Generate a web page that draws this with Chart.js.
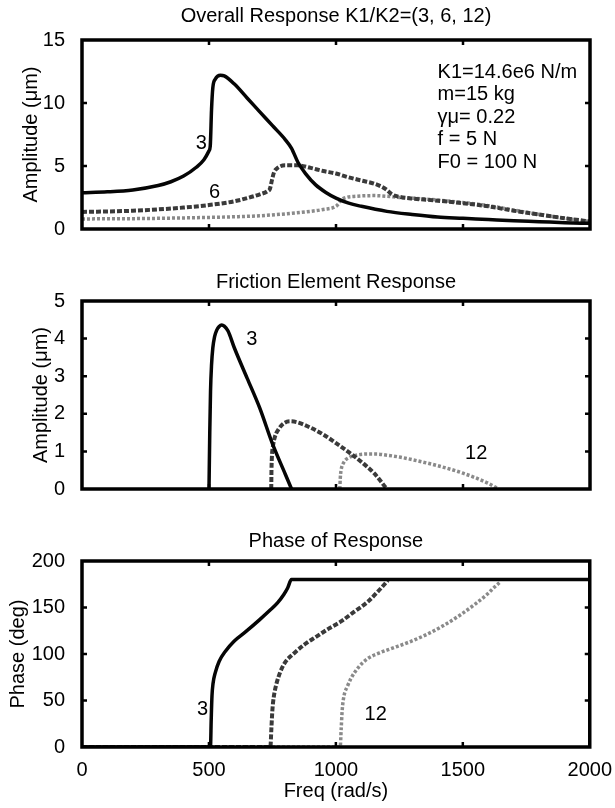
<!DOCTYPE html>
<html>
<head>
<meta charset="utf-8">
<script src="https://cdn.jsdelivr.net/npm/chart.js@4.4.0/dist/chart.umd.min.js"></script>
<style>
  body { margin: 0; background: #fff; width: 615px; height: 808px; position: relative; overflow: hidden; }
  canvas { position: absolute; left: 0; }
</style>
</head>
<body>
<canvas id="overall" width="615" height="250" style="top:0px"></canvas>
<canvas id="friction" width="615" height="250" style="top:260px"></canvas>
<canvas id="phase" width="615" height="288" style="top:520px"></canvas>
<script>
// frequency axis ticks (rad/s)
const freqTicks = [0, 500, 1000, 1500, 2000];

// Overall response amplitude (um), K1/K2 = 3, 6, 12
const overallF3 = [0, 100, 200, 300, 350, 400, 450, 480, 500, 505, 510, 515, 525, 545, 560, 600, 650, 700, 750, 800, 825, 850, 880, 920, 960, 1000, 1050, 1100, 1200, 1300, 1400, 1500, 1600, 1700, 1800, 1900, 2000];
const overallA3 = [2.88, 2.95, 3.1, 3.45, 3.75, 4.2, 4.9, 5.5, 6.2, 6.6, 9.5, 11.2, 11.9, 12.2, 12.15, 11.5, 10.4, 9.3, 8.2, 7.1, 6.4, 5.3, 4.4, 3.5, 2.9, 2.45, 2.05, 1.8, 1.4, 1.15, 0.95, 0.85, 0.75, 0.65, 0.58, 0.5, 0.45];
const overallF6 = [0, 200, 400, 500, 600, 650, 700, 730, 740, 748, 756, 770, 800, 850, 900, 950, 1000, 1050, 1100, 1150, 1180, 1200, 1220, 1250, 1300, 1400, 1500, 1600, 1700, 1800, 1900, 2000];
const overallA6 = [1.35, 1.45, 1.7, 1.9, 2.2, 2.45, 2.75, 3.0, 3.2, 3.9, 4.5, 4.85, 5.05, 5.05, 4.85, 4.6, 4.4, 4.1, 3.85, 3.6, 3.35, 3.1, 2.75, 2.55, 2.42, 2.25, 2.05, 1.8, 1.45, 1.15, 0.85, 0.6];
const overallF12 = [0, 200, 400, 600, 700, 800, 900, 950, 1000, 1010, 1020, 1040, 1080, 1150, 1200, 1250, 1300, 1400, 1500, 1600, 1700, 1800, 1900, 2000];
const overallA12 = [0.8, 0.82, 0.88, 0.97, 1.05, 1.2, 1.4, 1.55, 1.8, 2.0, 2.3, 2.5, 2.6, 2.65, 2.6, 2.5, 2.45, 2.3, 2.1, 1.85, 1.5, 1.15, 0.85, 0.6];

// Friction element amplitude (um)
const frictionF3 = [500, 503, 506, 510, 515, 522, 530, 540, 550, 560, 575, 600, 650, 700, 750, 800, 825];
const frictionA3 = [0, 1.5, 2.6, 3.3, 3.75, 4.05, 4.22, 4.32, 4.36, 4.33, 4.2, 3.75, 2.95, 2.15, 1.2, 0.4, 0];
const frictionF6 = [745, 746, 748, 752, 760, 775, 795, 820, 850, 900, 950, 1000, 1050, 1100, 1150, 1200];
const frictionA6 = [0, 0.5, 0.9, 1.15, 1.4, 1.6, 1.75, 1.8, 1.77, 1.63, 1.45, 1.22, 0.98, 0.72, 0.42, 0];
const frictionF12 = [1015, 1017, 1020, 1030, 1050, 1080, 1120, 1160, 1200, 1250, 1300, 1400, 1500, 1600, 1640];
const frictionA12 = [0, 0.3, 0.5, 0.7, 0.83, 0.9, 0.93, 0.93, 0.9, 0.85, 0.78, 0.62, 0.42, 0.15, 0];

// Phase (deg)
const phaseF3 = [0, 506, 509, 512, 516, 525, 540, 565, 600, 645, 700, 740, 770, 795, 810, 825, 2000];
const phaseD3 = [0, 0, 30, 55, 68, 80, 92, 103, 114, 124, 137, 147, 155, 164, 171, 180, 180];
const phaseF6 = [0, 742, 746, 750, 756, 765, 780, 800, 832, 880, 925, 970, 1020, 1070, 1125, 1165, 1205];
const phaseD6 = [0, 0, 20, 40, 55, 67, 80, 91, 100, 111, 119, 127, 135, 145, 156, 167, 179];
const phaseF12 = [0, 1017, 1021, 1025, 1032, 1045, 1060, 1090, 1125, 1170, 1220, 1290, 1350, 1420, 1490, 1550, 1595, 1625, 1650];
const phaseD12 = [0, 0, 20, 40, 55, 65, 74, 86, 95, 101, 106, 113, 120, 130, 142, 154, 164, 172, 178];

// curve labels and parameter text
const overallNotes = [{ text: '3', x: 470, y: 6.8 }, { text: '6', x: 522, y: 2.9 }];
const frictionNotes = [{ text: '3', x: 669, y: 3.97 }, { text: '12', x: 1552, y: 0.94 }];
const phaseNotes = [{ text: '3', x: 475, y: 40 }, { text: '12', x: 1157, y: 35 }];
const paramLines = ['K1=14.6e6 N/m', 'm=15 kg', 'γμ= 0.22', 'f = 5 N', 'F0 = 100 N'];

const FONT = "'Liberation Sans', Arial, sans-serif";
Chart.defaults.font.family = FONT;
Chart.defaults.font.size = 20;
Chart.defaults.color = '#000';

function pts(xs, ys) {
    return xs.map((x, i) => ({ x: x, y: ys[i] }));
}

function series(xs, ys, which) {
    const ds = { data: pts(xs, ys), pointRadius: 0, cubicInterpolationMode: 'monotone', fill: false };
    if (which === 3) {
        ds.borderColor = '#050505';
        ds.borderWidth = 3.5;
    }
    if (which === 6) {
        ds.borderColor = '#3a3a3a';
        ds.borderWidth = 4;
        ds.borderDash = [5, 2];
    }
    if (which === 12) {
        ds.borderColor = '#8a8a8a';
        ds.borderWidth = 3.5;
        ds.borderDash = [3, 2];
    }
    return ds;
}

// box round the plot with inward ticks on all four sides
const frame = {
    id: 'frame',
    afterDatasetsDraw(chart) {
        const { ctx, chartArea: a, scales } = chart;
        ctx.save();
        ctx.strokeStyle = '#000';
        ctx.lineWidth = 2.5;
        ctx.beginPath();
        freqTicks.slice(1, -1).forEach(v => {
            const px = scales.x.getPixelForValue(v);
            ctx.moveTo(px, a.bottom); ctx.lineTo(px, a.bottom - 5);
            ctx.moveTo(px, a.top); ctx.lineTo(px, a.top + 5);
        });
        scales.y.ticks.slice(1, -1).forEach(t => {
            const py = scales.y.getPixelForValue(t.value);
            ctx.moveTo(a.left, py); ctx.lineTo(a.left + 5, py);
            ctx.moveTo(a.right, py); ctx.lineTo(a.right - 5, py);
        });
        ctx.stroke();
        ctx.lineWidth = 3.5;
        ctx.strokeRect(a.left, a.top, a.width, a.height);
        ctx.restore();
    }
};

// text labels placed in data units
const notes = {
    id: 'notes',
    afterDatasetsDraw(chart, args, opts) {
        const { ctx, scales } = chart;
        ctx.save();
        ctx.fillStyle = '#000';
        ctx.font = '20px ' + FONT;
        ctx.textAlign = 'center';
        ctx.textBaseline = 'middle';
        (opts.items || []).forEach(n => {
            ctx.fillText(n.text, scales.x.getPixelForValue(n.x), scales.y.getPixelForValue(n.y));
        });
        if (opts.lines) {
            ctx.textAlign = 'left';
            const x0 = scales.x.getPixelForValue(opts.linesAt.x);
            const y0 = scales.y.getPixelForValue(opts.linesAt.y);
            opts.lines.forEach((l, i) => ctx.fillText(l, x0, y0 + i * 22.5));
        }
        ctx.restore();
    }
};

function makeChart(id, cfg) {
    const bottomAxis = cfg.xTitle !== undefined;
    return new Chart(document.getElementById(id).getContext('2d'), {
        type: 'line',
        data: { datasets: cfg.datasets },
        options: {
            responsive: false,
            animation: false,
            layout: { padding: { left: 0, right: 25, top: 0, bottom: bottomAxis ? 0 : 21 } },
            plugins: {
                legend: { display: false },
                tooltip: { enabled: false },
                title: {
                    display: true,
                    fullSize: false,
                    text: cfg.title,
                    font: { size: 20, weight: 'normal' },
                    color: '#000',
                    padding: cfg.titlePad
                },
                notes: { items: cfg.notes, lines: cfg.lines, linesAt: cfg.linesAt }
            },
            scales: {
                x: {
                    type: 'linear',
                    min: 0,
                    max: 2000,
                    grid: { display: false },
                    border: { display: false },
                    ticks: {
                        display: bottomAxis,
                        stepSize: 500,
                        padding: 3,
                        color: '#000',
                        callback: v => String(v)
                    },
                    title: {
                        display: bottomAxis,
                        text: cfg.xTitle,
                        font: { size: 20 },
                        color: '#000',
                        padding: { top: 0, bottom: 5 }
                    },
                    afterFit: s => { s.height = bottomAxis ? 61 : 0; }
                },
                y: {
                    min: cfg.yMin,
                    max: cfg.yMax,
                    grid: { display: false },
                    border: { display: false },
                    ticks: { stepSize: cfg.yStep, padding: 9, color: '#000' },
                    title: {
                        display: true,
                        text: cfg.yTitle,
                        font: { size: 20 },
                        color: '#000',
                        padding: { top: cfg.yTitlePad, bottom: 0 }
                    },
                    afterFit: s => { s.width = 82; }
                }
            }
        },
        plugins: [frame, notes]
    });
}

makeChart('overall', {
    title: 'Overall Response K1/K2=(3, 6, 12)',
    titlePad: { top: 4, bottom: 12 },
    yTitle: 'Amplitude (μm)',
    yTitlePad: 19,
    yMin: 0, yMax: 15, yStep: 5,
    notes: overallNotes,
    lines: paramLines,
    linesAt: { x: 1400, y: 12.45 },
    datasets: [
        series(overallF3, overallA3, 3),
        series(overallF6, overallA6, 6),
        series(overallF12, overallA12, 12)
    ]
});

makeChart('friction', {
    title: 'Friction Element Response',
    titlePad: { top: 10, bottom: 7 },
    yTitle: 'Amplitude (μm)',
    yTitlePad: 29,
    yMin: 0, yMax: 5, yStep: 1,
    notes: frictionNotes,
    datasets: [
        series(frictionF3, frictionA3, 3),
        series(frictionF6, frictionA6, 6),
        series(frictionF12, frictionA12, 12)
    ]
});

makeChart('phase', {
    title: 'Phase of Response',
    titlePad: { top: 9, bottom: 8 },
    yTitle: 'Phase (deg)',
    yTitlePad: 6,
    yMin: 0, yMax: 200, yStep: 50,
    xTitle: 'Freq (rad/s)',
    notes: phaseNotes,
    datasets: [
        series(phaseF3, phaseD3, 3),
        series(phaseF6, phaseD6, 6),
        series(phaseF12, phaseD12, 12)
    ]
});
</script>
</body>
</html>
